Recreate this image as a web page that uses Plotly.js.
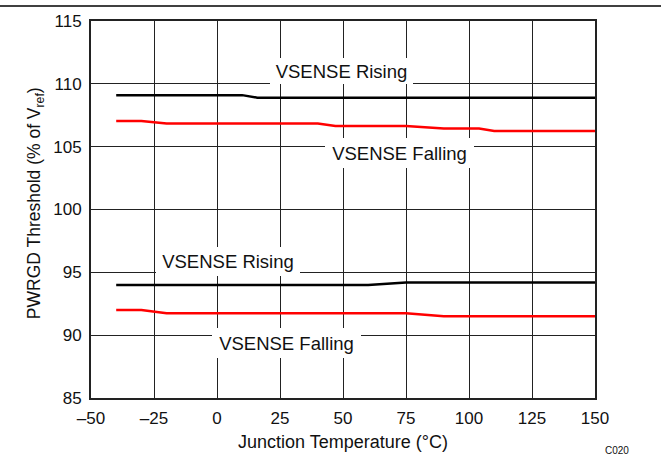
<!DOCTYPE html>
<html>
<head>
<meta charset="utf-8">
<script src="https://cdn.plot.ly/plotly-3.0.1.min.js"></script>
<style>html,body{margin:0;padding:0;background:#fff;}#chart{width:661px;height:456px;}</style>
</head>
<body>
<div id="chart"></div>
<script>
// Data
const tempRiseUpper = [-40, 10, 16, 150];
const valRiseUpper  = [109.1, 109.1, 108.9, 108.9];
const tempFallUpper = [-40, -30, -20, 40, 47, 75, 90, 104, 110, 150];
const valFallUpper  = [107.05, 107.05, 106.85, 106.85, 106.65, 106.65, 106.45, 106.45, 106.25, 106.25];
const tempRiseLower = [-40, 60, 75, 150];
const valRiseLower  = [94.0, 94.0, 94.2, 94.2];
const tempFallLower = [-40, -30, -20, 75, 90, 150];
const valFallLower  = [92.0, 92.0, 91.75, 91.75, 91.5, 91.5];

const xTickVals = [-50, -25, 0, 25, 50, 75, 100, 125, 150];
const xTickText = ['\u201350', '\u201325', '0', '25', '50', '75', '100', '125', '150'];
const yTickVals = [85, 90, 95, 100, 105, 110, 115];
const yTickText = ['85', '90', '95', '100', '105', '110', '115'];

const FONT = '"Liberation Sans", Arial, sans-serif';
const lineW = 2.5;

const traces = [
  {x: tempRiseUpper, y: valRiseUpper, mode: 'lines', line: {color: '#000000', width: lineW}},
  {x: tempFallUpper, y: valFallUpper, mode: 'lines', line: {color: '#ff0000', width: lineW}},
  {x: tempRiseLower, y: valRiseLower, mode: 'lines', line: {color: '#000000', width: lineW}},
  {x: tempFallLower, y: valFallLower, mode: 'lines', line: {color: '#ff0000', width: lineW}}
];

function label(text, x, y, w, h) {
  return {text: text, x: x, y: y, xref: 'x', yref: 'y', showarrow: false,
    xanchor: 'center', yanchor: 'middle', width: w, height: h,
    bgcolor: '#ffffff', borderpad: 0, borderwidth: 0,
    font: {family: FONT, size: 18.5, color: '#111'}};
}

const layout = {
  width: 661, height: 456,
  margin: {l: 91, r: 66, t: 21, b: 58},
  paper_bgcolor: '#ffffff', plot_bgcolor: '#ffffff',
  showlegend: false,
  font: {family: FONT, color: '#111'},
  xaxis: {
    range: [-50, 150], tickmode: 'array', tickvals: xTickVals, ticktext: xTickText,
    showgrid: true, gridcolor: '#222', gridwidth: 1,
    showline: true, mirror: true, linecolor: '#222', linewidth: 2,
    ticks: '', zeroline: false, ticklabelstandoff: 4,
    tickfont: {family: FONT, size: 17, color: '#111'},
    title: {text: 'Junction Temperature (\u00B0C)', font: {family: FONT, size: 18, color: '#111'}, standoff: 8}
  },
  yaxis: {
    range: [85, 115], tickmode: 'array', tickvals: yTickVals, ticktext: yTickText,
    showgrid: true, gridcolor: '#222', gridwidth: 1,
    showline: true, mirror: true, linecolor: '#222', linewidth: 2,
    ticks: '', zeroline: false, ticklabelstandoff: 4,
    tickfont: {family: FONT, size: 17, color: '#111'}
  },
  annotations: [
    label('VSENSE Rising', 49.4, 111.0, 143, 26),
    label('VSENSE Falling', 72.4, 104.46, 149, 30),
    label('VSENSE Rising', 4.3, 95.84, 144, 29),
    label('VSENSE Falling', 27.65, 89.41, 149, 30),
    {text: 'PWRGD Threshold (% of V<sub>ref</sub>)', xref: 'paper', yref: 'paper',
     x: -0.111, y: 0.517, textangle: -90, showarrow: false,
     xanchor: 'center', yanchor: 'middle',
     font: {family: FONT, size: 17.5, color: '#111'}},
    {text: 'C020', xref: 'paper', yref: 'paper', x: 1.0437, y: -0.1405, showarrow: false,
     xanchor: 'center', yanchor: 'middle', font: {family: FONT, size: 10, color: '#111'}}
  ],
  shapes: [
    {type: 'line', xref: 'paper', yref: 'paper', x0: -0.19, x1: 1.14, y0: 1.0398, y1: 1.0398,
     line: {color: '#000', width: 1.5}}
  ]
};

Plotly.newPlot('chart', traces, layout, {staticPlot: true, displayModeBar: false});
</script>
</body>
</html>
